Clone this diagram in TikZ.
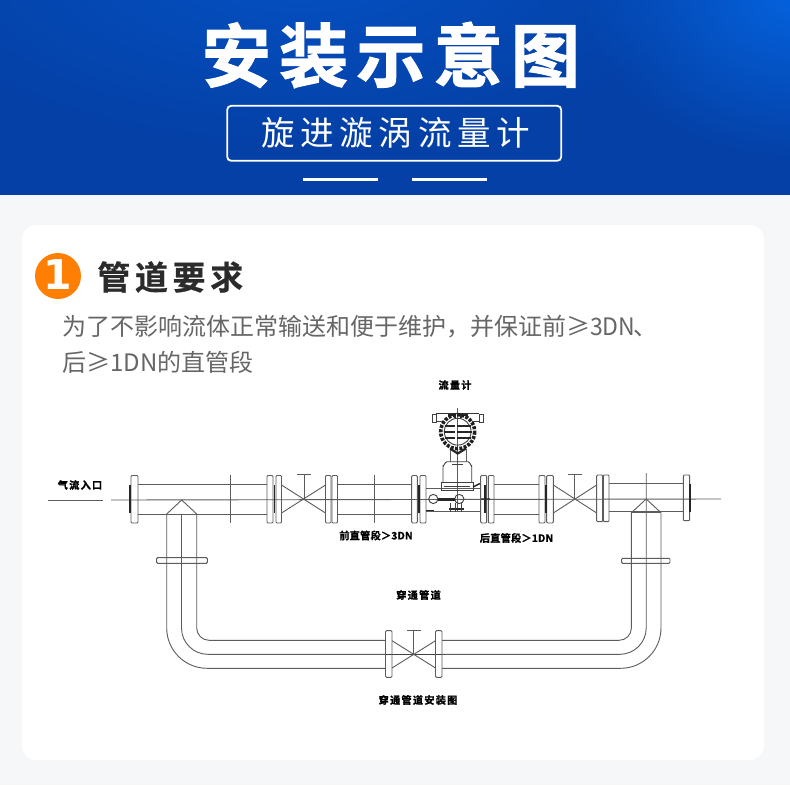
\documentclass[tikz,border=0pt]{standalone}
\usepackage{fontspec}
\usetikzlibrary{fadings}
\setmainfont{Noto Sans CJK SC}[BoldFont={Noto Sans CJK SC Bold}]
\newfontfamily\cjkb{Noto Sans CJK SC Bold}
\newfontfamily\cjkr{Noto Sans CJK SC}
\newfontfamily\numb{DejaVu Sans Bold}
\definecolor{bandbase}{HTML}{0440A6}
\definecolor{bandglow}{HTML}{0564E0}
\definecolor{bandmid}{HTML}{0552C4}
\definecolor{pagebg}{HTML}{F6F7F9}
\definecolor{badge}{HTML}{FF7F05}
\definecolor{inktitle}{HTML}{2B2B2B}
\definecolor{inkbody}{HTML}{666666}
\definecolor{pipeink}{HTML}{5C5C5C}
\tikzfading[name=glowfade, inner color=transparent!0, outer color=transparent!100]
\tikzset{
  pipe/.style={draw=pipeink,line width=.9pt},
  pipedark/.style={draw=black!75,line width=.9pt},
  thickbar/.style={draw=black!85,line width=1.8pt},
  flangebox/.style={draw=pipeink,line width=.95pt,rounded corners=1pt},
  cadlabel/.style={font=\cjkb\fontsize{10.2}{12}\selectfont,text=black,inner sep=0pt},
  bodyline/.style={font=\cjkr\fontsize{24}{28}\selectfont,text=inkbody,inner sep=0pt,anchor=west},
}
\begin{document}
\begin{tikzpicture}[x=1pt,y=-1pt]
\useasboundingbox (0,0) rectangle (790,785);
\fill[pagebg] (0,0) rectangle (790,785);
% header band
\fill[bandbase] (0,0) rectangle (790,195);
\begin{scope}
  \clip (0,0) rectangle (790,195);
  \fill[bandmid,path fading=glowfade] (300,-40) ellipse (420 and 190);
  \fill[bandglow,path fading=glowfade] (800,-10) ellipse (220 and 170);
\end{scope}
\node[inner sep=0pt,text=white] (title) at (387,55)
  {\cjkb\addfontfeature{LetterSpace=12,FakeBold=1.6}\fontsize{69}{72}\selectfont 安装示意图\kern-8pt};
\node[draw=white,line width=1.8pt,rounded corners=4pt,minimum width=334pt,minimum height=55pt,inner sep=0pt] (subbox) at (394.2,133.3) {};
\node[inner sep=0pt,text=white] (subtitle) at (393,132.5)
  {\cjkr\addfontfeature{LetterSpace=17}\fontsize{33.5}{36}\selectfont 旋进漩涡流量计\kern-5.5pt};
\fill[white] (303,177.7) rectangle (378,181);
\fill[white] (412,177.7) rectangle (487,181);
% card
\fill[white,rounded corners=14pt] (22,225) rectangle (764,760);
\node[circle,fill=badge,minimum size=46pt,inner sep=0pt] (badgec) at (58,276) {};
\node[inner sep=0pt,text=white] (badgen) at (58,275) {\numb\fontsize{41}{44}\selectfont 1};
\node[inner sep=0pt,text=inktitle] (head) at (168,277)
  {\cjkb\addfontfeature{LetterSpace=14,FakeBold=.6}\fontsize{33}{36}\selectfont 管道要求\kern-4.6pt};
\node[bodyline] (line1) at (62,327) {为了不影响流体正常输送和便于维护，并保证前≥{\addfontfeature{FakeStretch=.96}3DN}\kern-2pt 、};
\node[bodyline] (line2) at (62,362) {后≥1DN的直管段};
% --- drawing: centre lines
\draw[pipe] (48,500) -- (103,500);
\draw[pipe] (111,500) -- (721,499);
% main pipe walls
\draw[pipe] (138,484.3) -- (267,484.3) (138,514) -- (267,514);
\draw[pipe] (337.5,484.3) -- (412,484.3) (337.5,514) -- (412,514);
\draw[pipe] (494,484.3) -- (539,484.3) (494,514) -- (539,514);
\draw[pipe] (609,483.3) -- (683.3,483.3) (609,511.7) -- (683.3,511.7);
% flanges
\draw[flangebox] (131,475.5) rectangle (138,523);
\draw[thickbar] (130.3,485) -- (130.3,513);
\draw[pipe] (230.5,474.7) -- (230.5,523);
\draw[flangebox] (267,475.5) rectangle (273,523);
\draw[flangebox] (276,475.5) rectangle (281.5,523);
\draw[thickbar] (274.5,485) -- (274.5,513);
\draw[flangebox] (325.5,475.5) rectangle (331,523);
\draw[flangebox] (332,475.5) rectangle (337.5,523);
\draw[pipe] (374.5,475) -- (374.5,523);
\draw[flangebox] (411.7,475.5) rectangle (417.3,523);
\draw[flangebox] (420,475.5) rectangle (426,523);
\draw[thickbar] (418.7,485) -- (418.7,513);
\draw[flangebox] (480.7,475.5) rectangle (486.7,523);
\draw[flangebox] (488.3,475.5) rectangle (494,523);
\draw[thickbar] (485,485) -- (485,513);
\draw[flangebox] (539,475.5) rectangle (545,523);
\draw[flangebox] (546.7,475.5) rectangle (553.3,523);
\draw[thickbar] (545.8,485) -- (545.8,513);
\draw[flangebox] (596.7,475) rectangle (602.7,521.7);
\draw[flangebox] (603.3,475) rectangle (609,521.7);
\draw[flangebox] (683.3,475) rectangle (689.7,520.7);
\draw[thickbar] (689.9,484) -- (689.9,512);
% top valves
\draw[pipe] (281.5,485) -- (325.5,513) (281.5,513) -- (325.5,485);
\draw[pipe] (304,498.5) -- (304,474.5) (297,474.5) -- (311,474.5);
\draw[pipe] (553.3,485) -- (596.7,513) (553.3,513) -- (596.7,485);
\draw[pipe] (574,498.5) -- (574,474.3) (568,474.3) -- (582,474.3);
% branches
\draw[pipe] (166.7,628) -- (166.7,514) -- (181.7,500) -- (196.7,514) -- (196.7,628);
\draw[pipe] (166.7,514) -- (196.7,514);
\draw[pipe] (631.4,628) -- (631.4,512.7) -- (646.2,499) -- (661,512.7) -- (661,628);
\draw[pipe] (631.4,512.7) -- (661,512.7);
\draw[flangebox] (156.7,557.7) rectangle (207.3,563.3);
\draw[flangebox] (621.7,558.3) rectangle (670,563.3);
% bypass
\draw[pipe] (166.7,628) .. controls (166.7,650.2) and (184.8,668.3) .. (207,668.3) -- (385.5,668.3);
\draw[pipe] (181.5,514) -- (181.5,628) .. controls (181.5,642.5) and (193.3,654.3) .. (207.8,654.3) -- (385.5,654.3);
\draw[pipe] (196.7,628) .. controls (196.7,634.8) and (202.2,640.3) .. (209,640.3) -- (385.5,640.3);
\draw[pipe] (661,628) .. controls (661,650.2) and (642.9,668.3) .. (620.7,668.3) -- (442,668.3);
\draw[pipe] (646.2,473) -- (646.2,628) .. controls (646.2,642.5) and (634.4,654.3) .. (619.9,654.3) -- (442,654.3);
\draw[pipe] (631.4,628) .. controls (631.4,634.8) and (625.9,640.3) .. (619.1,640.3) -- (442,640.3);
% bypass valve
\draw[pipedark] (385.5,654.3) -- (442,654.3);
\draw[flangebox] (385.5,630.7) rectangle (392,677.3);
\draw[flangebox] (435.5,630.7) rectangle (442,677.3);
\draw[pipe] (392,640.7) -- (435.5,668) (392,668) -- (435.5,640.7);
\draw[pipe] (413.8,654.3) -- (413.8,630) (407,630) -- (420.6,630);
% --- flowmeter
\draw[pipe] (426,488) -- (480.7,488) (426,511) -- (480.7,511);
\draw[pipe] (457.7,408) -- (457.7,511);
\draw[pipedark] (443,482.7) -- (443,466) to[out=-90,in=180] (447,461.7) -- (468,461.7) to[out=0,in=-90] (471.7,466) -- (471.7,482.7);
\draw[pipedark] (441,482.7) rectangle (473.3,490);
\draw[pipedark] (444,486.5) -- (470,486.5);
\draw[pipe] (450,449) -- (450,461.7) (466,449) -- (466,461.7);
\draw[pipedark] (452,464.5) -- (463,464.5);
\draw[pipedark] (433.3,499) circle (4.6);
\draw[pipedark] (459.3,499) circle (4.6);
\draw[line width=3pt,black!85] (438,499) -- (455,499);
\draw[line width=1.4pt,black!85] (426,510.5) -- (434,510.5) (449,509) -- (464,509);
\draw[pipedark] (450,503) -- (450,512) (455,503) -- (455,512) (461,503) -- (461,512);
\draw[line width=1.4pt,black!85] (473,487) -- (480,483.5) (481,499) -- (490,499);
% head
\draw[line width=1.4pt,black!80] (436,413.5) -- (479,413.5);
\draw[pipedark] (432.5,414) rectangle (436.5,422.5);
\draw[pipedark] (479.5,414) rectangle (483.5,422.5);
\draw[pipedark] (436.5,421) -- (443,421) (472,421) -- (479.5,421);
\draw[line width=2.4pt,black!85] (448,415) -- (455,415) -- (455,418) (461,418) -- (461,415) -- (468,415);
\draw[line width=3.6pt,black!88,dash pattern=on 3pt off 1.4pt] (457.7,431.7) circle (17);
\draw[pipedark] (457.7,431.7) circle (13.4);
\draw[line width=2pt,black!85] (444.5,426) -- (471,426) (443.5,432) -- (472,432) (444.5,438) -- (471,438);
\draw[line width=1.6pt,white] (455.8,422) -- (455.8,441);
\draw[line width=2.2pt,black!85] (450,448.5) -- (457.7,453.5) -- (466,448.5);
% labels
\node[cadlabel] (lbin) at (80,485) {\addfontfeature{LetterSpace=12,FakeBold=1}气流入口};
\node[cadlabel] (lbfront) at (376,535.5) {\addfontfeature{LetterSpace=2,FakeBold=1}前直管段＞3DN};
\node[cadlabel] (lbrear) at (516.5,538) {\addfontfeature{LetterSpace=2,FakeBold=1}后直管段＞1DN};
\node[cadlabel] (lbmeter) at (455,385) {\addfontfeature{LetterSpace=12,FakeBold=1}流量计};
\node[cadlabel] (lbby) at (418.5,595) {\addfontfeature{LetterSpace=12,FakeBold=1}穿通管道};
\node[cadlabel] (lbinst) at (418,700) {\addfontfeature{LetterSpace=12,FakeBold=1}穿通管道安装图};
\end{tikzpicture}
\end{document}
